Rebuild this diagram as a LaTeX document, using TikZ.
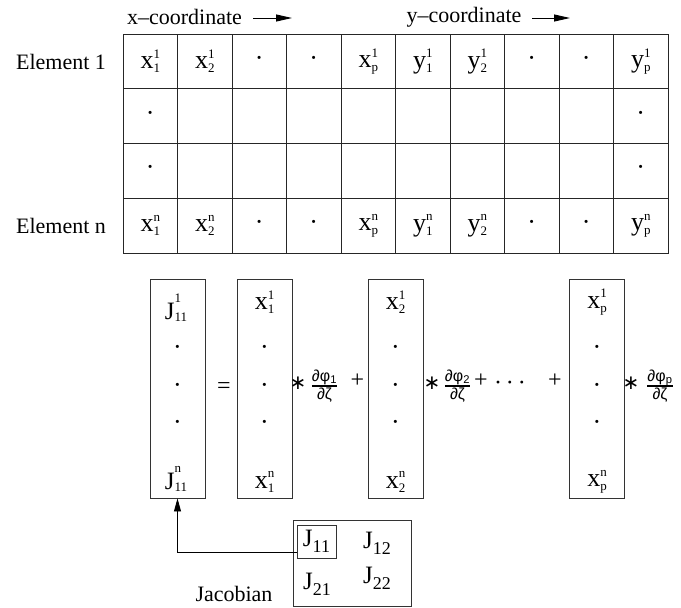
\documentclass[tikz,border=0pt]{standalone}
\usepackage{fontspec}
\setmainfont{Liberation Serif}
\newfontfamily\dvs{DejaVu Sans}
\newfontfamily\lsans{Liberation Sans}
\usetikzlibrary{arrows.meta,calc}
% letter with stacked super/subscript (text mode)
\newcommand\stk[5]{#1{\fontsize{13}{13}\selectfont\setbox0\hbox{#2}\setbox2\hbox{#3}%
  \ifdim\wd0>\wd2 \rlap{\raisebox{#5}{#3}}\raisebox{#4}{#2}\else\rlap{\raisebox{#4}{#2}}\raisebox{#5}{#3}\fi}}
\newcommand\vx[3]{\stk{#1}{#2}{#3}{10.5pt}{-4pt}}
\newcommand\vj[3]{\stk{#1}{#2}{#3}{17pt}{-2pt}}
\newcommand\jj[1]{J{\fontsize{18}{18}\selectfont\raisebox{-6pt}{#1}}}
\newcommand\pd[1]{{\lsans\fontsize{16}{17}\selectfont\setlength\arrayrulewidth{1.1pt}%
  \begin{tabular}{@{}c@{}}∂φ\textsubscript{#1}\\[-1pt]\hline\rule{0pt}{13pt}∂ζ\end{tabular}}}
\begin{document}
\begin{tikzpicture}[x=1pt,y=-1pt,
 lbl/.style={font=\fontsize{22}{26}\selectfont, inner sep=0},
 cell/.style={draw=black!85, line width=0.9pt, minimum width=54.5pt, minimum height=54.75pt, inner sep=0, font=\fontsize{26}{30}\selectfont},
 colbox/.style={draw=black!80, line width=0.9pt, minimum width=55pt, minimum height=219pt, inner sep=0},
 ent/.style={inner sep=0, font=\fontsize{26}{30}\selectfont},
 jent/.style={inner sep=0, font=\fontsize{25}{30}\selectfont},
 op/.style={inner sep=0, font=\fontsize{24}{28}\selectfont},
 ast/.style={inner sep=0, font=\dvs\fontsize{20}{24}\selectfont},
 frc/.style={inner sep=0},
 hdarrow/.style={line width=0.9pt, -{Triangle[length=16pt,width=7pt]}},
 conn/.style={line width=0.8pt, -{Triangle[length=13pt,width=7pt]}},
]
\useasboundingbox (0,0) rectangle (681,608);

% header
\node[lbl] (xc) at (184.5,17) {x--coordinate};
\coordinate (xa1) at (253,18); \coordinate (xa2) at (292,18);
\draw[hdarrow] (xa1) -- (xa2);
\node[lbl] (yc) at (464,17) {y--coordinate};
\coordinate (ya1) at (532,18); \coordinate (ya2) at (570,18);
\draw[hdarrow] (ya1) -- (ya2);

\node[lbl] (e1) at (61,62) {Element 1};
\node[lbl] (en) at (61,226) {Element n};

% table
\foreach \t [count=\i] in {{\vx{x}{1}{1}},{\vx{x}{1}{2}},{·},{·},{\vx{x}{1}{p}},{\vx{y}{1}{1}},{\vx{y}{1}{2}},{·},{·},{\vx{y}{1}{p}}}
  \node[cell] (c1-\i) at (95.75+54.5*\i,61.4) {\t};
\foreach \t [count=\i] in {{·},{},{},{},{},{},{},{},{},{·}}
  \node[cell] (c2-\i) at (95.75+54.5*\i,116.1) {\t};
\foreach \t [count=\i] in {{·},{},{},{},{},{},{},{},{},{·}}
  \node[cell] (c3-\i) at (95.75+54.5*\i,170.9) {\t};
\foreach \t [count=\i] in {{\vx{x}{n}{1}},{\vx{x}{n}{2}},{·},{·},{\vx{x}{n}{p}},{\vx{y}{n}{1}},{\vx{y}{n}{2}},{·},{·},{\vx{y}{n}{p}}}
  \node[cell] (c4-\i) at (95.75+54.5*\i,225.6) {\t};

% column boxes
\node[colbox] (bj) at (177.5,388.5) {};
\node[colbox] (b1) at (264.5,388.5) {};
\node[colbox] (b2) at (395.5,388.5) {};
\node[colbox] (bp) at (597,388.5) {};

\node[jent] (j1) at (176,308) {\vj{J}{1}{11}};
\node[ent] (j2) at (177.5,350) {·};
\node[ent] (j3) at (177.5,388) {·};
\node[ent] (j4) at (177.5,425) {·};
\node[jent] (j5) at (176,479) {\vj{J}{n}{11}};

\foreach \n/\s/\cx in {a/1/264.5, b/2/395.5, p/p/597} {
  \node[ent] (\n1) at (\cx,302) {\vx{x}{1}{\s}};
  \node[ent] (\n2) at (\cx,350) {·};
  \node[ent] (\n3) at (\cx,388) {·};
  \node[ent] (\n4) at (\cx,425) {·};
  \node[ent] (\n5) at (\cx,482) {\vx{x}{n}{\s}};
}

% operators
\node[op] (eq) at (224,388) {=};
\node[ast] (s1) at (298,383) {∗};
\node[frc] (f1) at (324.5,387) {\pd{1}};
\node[op] (p1) at (357.5,381) {+};
\node[ast] (s2) at (432,383) {∗};
\node[frc] (f2) at (457.5,387) {\pd{2}};
\node[op] (p2) at (481,381) {+};
\node[op] (dd) at (510,386) {·\hspace{4pt}·\hspace{4pt}·};
\node[op] (p3) at (555,381) {+};
\node[ast] (s3) at (631,383) {∗};
\node[frc] (f3) at (660,387) {\pd{p}};

% Jacobian
\node[draw=black!80, line width=0.9pt, minimum width=118pt, minimum height=86pt, inner sep=0] (jac) at (352,563) {};
\node[draw=black!80, line width=0.8pt, minimum width=39pt, minimum height=33pt, inner sep=0, font=\fontsize{25}{30}\selectfont] (j11) at (316.5,541.5) {\jj{11}};
\node[jent] (j12) at (377,543) {\jj{12}};
\node[jent] (j21) at (317,584) {\jj{21}};
\node[jent] (j22) at (377,578) {\jj{22}};
\node[lbl] (jl) at (234,594) {Jacobian};

\draw[conn] ([yshift=-10.5pt]j11.west) -| (bj.south);
\end{tikzpicture}
\end{document}
